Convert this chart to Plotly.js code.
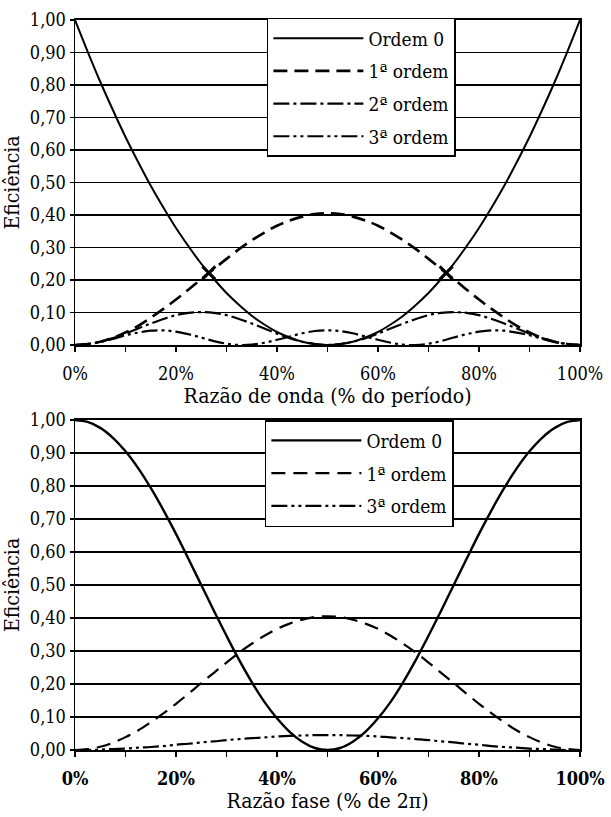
<!DOCTYPE html>
<html>
<head>
<meta charset="utf-8">
<script src="https://cdn.plot.ly/plotly-3.0.1.min.js"></script>
<style>html,body{margin:0;padding:0;background:#fff;}</style>
</head>
<body>
<div id="chart" style="width:611px;height:817px;"></div>
<script>
// ---------- Top chart: Razão de onda (% do período) ----------
const xTop = [0,2.5,5,7.5,10,12.5,15,17.5,20,22.5,25,27.5,30,32.5,35,37.5,40,42.5,45,47.5,50,
              52.5,55,57.5,60,62.5,65,67.5,70,72.5,75,77.5,80,82.5,85,87.5,90,92.5,95,97.5,100];
const topOrdem0 = [1.000,0.903,0.810,0.723,0.640,0.563,0.490,0.423,0.360,0.303,0.250,0.203,0.160,0.123,0.090,0.063,0.040,0.023,0.010,0.003,0.000,
                   0.003,0.010,0.023,0.040,0.063,0.090,0.123,0.160,0.203,0.250,0.303,0.360,0.423,0.490,0.563,0.640,0.723,0.810,0.903,1.000];
const topOrdem1 = [0.000,0.003,0.010,0.022,0.039,0.059,0.084,0.111,0.140,0.171,0.203,0.234,0.265,0.295,0.322,0.346,0.367,0.383,0.395,0.403,0.405,
                   0.403,0.395,0.383,0.367,0.346,0.322,0.295,0.265,0.234,0.203,0.171,0.140,0.111,0.084,0.059,0.039,0.022,0.010,0.003,0.000];
const topOrdem2 = [0.000,0.003,0.010,0.021,0.035,0.051,0.066,0.080,0.092,0.099,0.101,0.099,0.092,0.080,0.066,0.051,0.035,0.021,0.010,0.003,0.000,
                   0.003,0.010,0.021,0.035,0.051,0.066,0.080,0.092,0.099,0.101,0.099,0.092,0.080,0.066,0.051,0.035,0.021,0.010,0.003,0.000];
const topOrdem3 = [0.000,0.003,0.009,0.019,0.030,0.038,0.044,0.045,0.041,0.033,0.023,0.012,0.004,0.000,0.001,0.007,0.016,0.026,0.036,0.043,0.045,
                   0.043,0.036,0.026,0.016,0.007,0.001,0.000,0.004,0.012,0.023,0.033,0.041,0.045,0.044,0.038,0.030,0.019,0.009,0.003,0.000];
const crossX = [26.5, 73.5];
const crossY = [0.222, 0.222];

// ---------- Bottom chart: Razão fase (% de 2π) ----------
const xBot = [0,2.5,5,7.5,10,12.5,15,17.5,20,22.5,25,27.5,30,32.5,35,37.5,40,42.5,45,47.5,50,
              52.5,55,57.5,60,62.5,65,67.5,70,72.5,75,77.5,80,82.5,85,87.5,90,92.5,95,97.5,100];
const botOrdem0 = [1.000,0.994,0.976,0.946,0.905,0.854,0.794,0.727,0.655,0.578,0.500,0.422,0.346,0.273,0.206,0.146,0.096,0.055,0.025,0.006,0.000,
                   0.006,0.025,0.055,0.096,0.146,0.206,0.273,0.346,0.422,0.500,0.578,0.655,0.727,0.794,0.854,0.905,0.946,0.976,0.994,1.000];
const botOrdem1 = [0.000,0.003,0.010,0.022,0.039,0.059,0.084,0.111,0.140,0.171,0.203,0.234,0.265,0.295,0.322,0.346,0.367,0.383,0.395,0.403,0.405,
                   0.403,0.395,0.383,0.367,0.346,0.322,0.295,0.265,0.234,0.203,0.171,0.140,0.111,0.084,0.059,0.039,0.022,0.010,0.003,0.000];
const botOrdem3 = [0.000,0.000,0.001,0.003,0.004,0.007,0.009,0.012,0.016,0.019,0.023,0.026,0.030,0.033,0.036,0.038,0.041,0.043,0.044,0.045,0.045,
                   0.045,0.044,0.043,0.041,0.038,0.036,0.033,0.030,0.026,0.023,0.019,0.016,0.012,0.009,0.007,0.004,0.003,0.001,0.000,0.000];

const namesTop = ['Ordem 0','1ª ordem','2ª ordem','3ª ordem'];
const namesBot = ['Ordem 0','1ª ordem','3ª ordem'];

const FONT = 'DejaVu Serif Condensed, DejaVu Serif';
const dashes = {
  solid: 'solid',
  dash: '14px,7px',
  dashdot: '16px,4px,3px,4px',
  dashdotdot: '16px,4px,3px,4px,3px,4px'
};

const traces = [
  {x:xTop, y:topOrdem0, name:namesTop[0], legendgroup:'a0', line:{color:'#000', width:2, dash:dashes.solid, shape:'spline'}},
  {x:xTop, y:topOrdem1, name:namesTop[1], legendgroup:'a1', line:{color:'#000', width:2.6, dash:dashes.dash, shape:'spline'}},
  {x:xTop, y:topOrdem2, name:namesTop[2], legendgroup:'a2', line:{color:'#000', width:2.2, dash:dashes.dashdot, shape:'spline'}},
  {x:xTop, y:topOrdem3, name:namesTop[3], legendgroup:'a3', line:{color:'#000', width:2.2, dash:dashes.dashdotdot, shape:'spline'}},
  {x:crossX, y:crossY, mode:'markers', showlegend:false, marker:{symbol:'x-thin', size:13, line:{width:3, color:'#000'}, color:'#000'}},
  {x:xBot, y:botOrdem0, name:namesBot[0], xaxis:'x2', yaxis:'y2', legend:'legend2', legendgroup:'b0', line:{color:'#000', width:2.4, dash:dashes.solid, shape:'spline'}},
  {x:xBot, y:botOrdem1, name:namesBot[1], xaxis:'x2', yaxis:'y2', legend:'legend2', legendgroup:'b1', line:{color:'#000', width:2.2, dash:'14px,8px', shape:'spline'}},
  {x:xBot, y:botOrdem3, name:namesBot[2], xaxis:'x2', yaxis:'y2', legend:'legend2', legendgroup:'b3', line:{color:'#000', width:2.2, dash:dashes.dashdotdot, shape:'spline'}}
].map(t => Object.assign({type:'scatter', mode:'lines', hoverinfo:'skip'}, t));

function xAxis(title, anchor, bold) {
  return {
    anchor: anchor, domain:[0,1], range:[0,100], tick0:0, dtick:20, ticksuffix:'%',
    ticks:'outside', ticklen:5, tickwidth:1.2, tickcolor:'#000',
    minor:{dtick:10, ticks:'outside', ticklen:5, tickwidth:1.2, tickcolor:'#000', showgrid:false},
    showgrid:false, zeroline:false, showline:true, linecolor:'#000', linewidth:2, mirror:true,
    ticklabelstandoff:6,
    tickfont:{family:FONT, size:18, color:'#000', weight: bold ? 'bold' : 'normal'},
    title:{text:title, font:{family:FONT, size:21, color:'#000'}, standoff:6}
  };
}
function yAxis(domain, anchor) {
  return {
    anchor: anchor, domain:domain, range:[0,1], tick0:0, dtick:0.1, tickformat:'.2f',
    ticks:'outside', ticklen:4, tickwidth:1.2, tickcolor:'#000',
    showgrid:true, gridcolor:'#000', gridwidth:1.5, zeroline:false,
    showline:true, linecolor:'#000', linewidth:1.5, mirror:true,
    tickfont:{family:FONT, size:18, color:'#000'},
    title:{text:'Eficiência', font:{family:FONT, size:21, color:'#000'}, standoff:4}
  };
}
function legendBox(x, y) {
  return {x:x, y:y, xanchor:'left', yanchor:'top', bgcolor:'#fff', bordercolor:'#000', borderwidth:1.5,
          font:{family:FONT, size:19, color:'#000'}, traceorder:'grouped', tracegroupgap:5, itemwidth:90};
}

const layout = {
  width:611, height:817,
  margin:{l:75, r:31, t:20, b:67},
  paper_bgcolor:'#fff', plot_bgcolor:'#fff',
  separators:',.',
  font:{family:FONT, color:'#000', size:19},
  showlegend:true,
  xaxis: xAxis('Razão de onda (% do período)', 'y', false),
  yaxis: yAxis([0.5548, 1], 'x'),
  xaxis2: xAxis('Razão fase (% de 2π)', 'y2', true),
  yaxis2: yAxis([0, 0.4521], 'x2'),
  legend: legendBox(0.38, 1.003),
  legend2: legendBox(0.376, 0.452)
};

Plotly.newPlot('chart', traces, layout, {staticPlot:true, displayModeBar:false});
</script>
</body>
</html>
